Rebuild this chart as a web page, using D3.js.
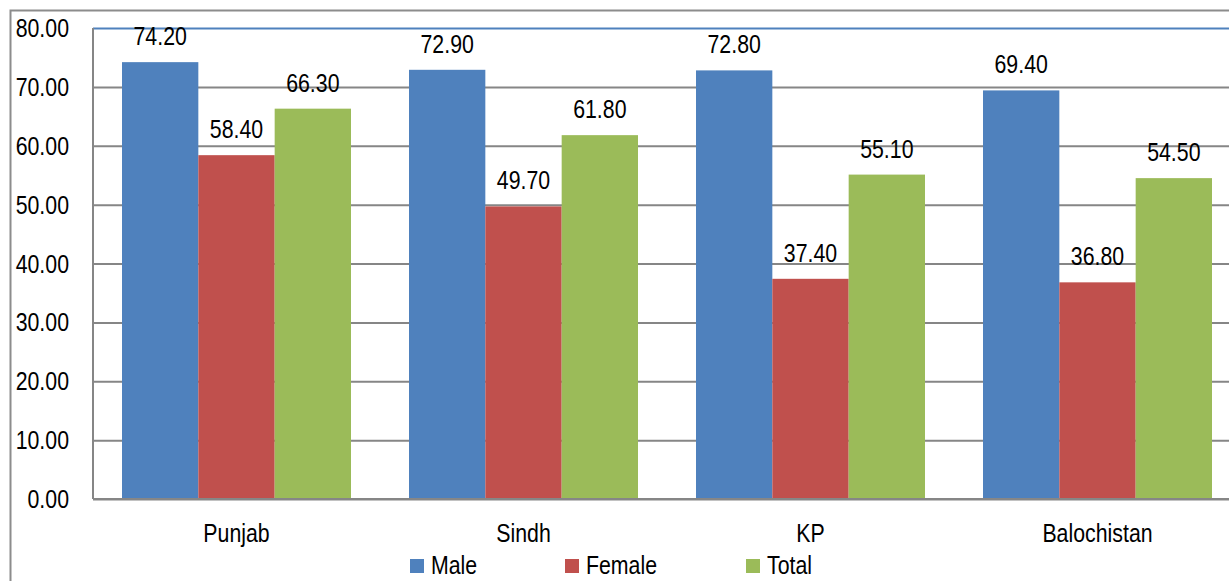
<!DOCTYPE html>
<html>
<head>
<meta charset="utf-8">
<script src="https://cdn.jsdelivr.net/npm/d3@7"></script>
<style>
  html, body { margin: 0; padding: 0; background: #fff; }
  svg { display: block; }
  text { font-family: "Liberation Sans", Arial, sans-serif; fill: #000; font-size: 26px; }
</style>
</head>
<body>
<svg id="chart" width="1229" height="581"></svg>
<script>
// Literacy rate by province
const categories = ["Punjab", "Sindh", "KP", "Balochistan"];
const seriesNames = ["Male", "Female", "Total"];
const maleValues = [74.2, 72.9, 72.8, 69.4];
const femaleValues = [58.4, 49.7, 37.4, 36.8];
const totalValues = [66.3, 61.8, 55.1, 54.5];
const yTicks = [0, 10, 20, 30, 40, 50, 60, 70, 80];
const colors = ["#4F81BD", "#C0504D", "#9BBB59"];

const seriesValues = [maleValues, femaleValues, totalValues];

const svg = d3.select("#chart");
const W = 1229, H = 581;
const SX = 0.82; // condensed text width

// places a horizontally condensed text at (x, y)
function label(sel, x, y, anchor, str) {
  return sel.append("text")
    .attr("transform", `translate(${x},${y}) scale(${SX},1)`)
    .attr("text-anchor", anchor)
    .text(str);
}

// plot area (extends slightly past the right edge of the canvas)
const plot = { left: 93, right: 93 + 4 * 287, top: 28, bottom: 499 };

const x0 = d3.scaleBand()
  .domain(categories)
  .range([plot.left, plot.right]);

const groupPad = 29;
const x1 = d3.scaleBand()
  .domain(seriesNames)
  .range([groupPad, x0.bandwidth() - groupPad]);

const y = d3.scaleLinear().domain([0, 80]).range([plot.bottom, plot.top]);

// outer chart border
svg.append("path")
  .attr("d", `M10.5,${H} L10.5,10.5 L${W},10.5`)
  .attr("fill", "none")
  .attr("stroke", "#8c8c8c")
  .attr("stroke-width", 2);

// gridlines
const yAxis = d3.axisLeft(y)
  .tickValues(yTicks)
  .tickSize(-(plot.right - plot.left))
  .tickFormat("");

const gy = svg.append("g")
  .attr("transform", `translate(${plot.left},0)`)
  .call(yAxis);
gy.select(".domain").remove();
gy.selectAll(".tick line")
  .attr("stroke", "#868686")
  .attr("stroke-width", 2);
// top edge of plot area drawn blue
gy.selectAll(".tick").filter(d => d === 80).select("line")
  .attr("stroke", "#4F81BD");

// y tick labels
const gyl = svg.append("g");
yTicks.forEach(t => label(gyl, 69, y(t) + 9, "end", t.toFixed(2)));

// left axis line
svg.append("line")
  .attr("x1", plot.left).attr("x2", plot.left)
  .attr("y1", plot.top).attr("y2", plot.bottom)
  .attr("stroke", "#868686").attr("stroke-width", 2);

// bars
const groups = svg.append("g").selectAll("g")
  .data(categories)
  .join("g")
  .attr("transform", d => `translate(${x0(d)},0)`);

const cells = (d, i) => seriesNames.map((s, j) => ({ s, j, v: seriesValues[j][i] }));

groups.selectAll("rect")
  .data(cells)
  .join("rect")
  .attr("x", d => x1(d.s))
  .attr("width", x1.bandwidth())
  .attr("y", d => y(d.v))
  .attr("height", d => y(0) - y(d.v))
  .attr("fill", d => colors[d.j]);

// value labels
groups.each(function (c, i) {
  const g = d3.select(this);
  cells(c, i).forEach(d => {
    label(g, x1(d.s) + x1.bandwidth() / 2, y(d.v) - 17, "middle", d.v.toFixed(2));
  });
});

// bottom axis line (drawn over bars)
svg.append("line")
  .attr("x1", plot.left).attr("x2", plot.right)
  .attr("y1", plot.bottom).attr("y2", plot.bottom)
  .attr("stroke", "#868686").attr("stroke-width", 2);

// category labels
const gx = svg.append("g");
categories.forEach(c => label(gx, x0(c) + x0.bandwidth() / 2, 542, "middle", c));

// legend
const legendX = [410, 565, 746];
const legend = svg.append("g").selectAll("g")
  .data(seriesNames)
  .join("g")
  .attr("transform", (d, i) => `translate(${legendX[i]},559)`);
legend.append("rect")
  .attr("width", 14).attr("height", 14)
  .attr("fill", (d, i) => colors[i]);
legend.each(function (d) {
  label(d3.select(this), 21, 15, "start", d);
});
</script>
</body>
</html>
